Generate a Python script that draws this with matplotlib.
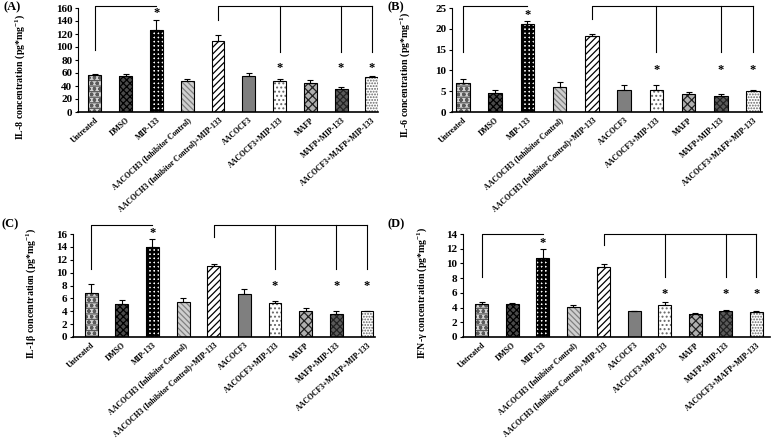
import numpy as np
import matplotlib
matplotlib.use('Agg')
import matplotlib.pyplot as plt

plt.rcParams['font.family'] = ['Liberation Serif', 'DejaVu Serif']
plt.rcParams['font.weight'] = 'bold'
plt.rcParams['mathtext.fontset'] = 'custom'
plt.rcParams['mathtext.bf'] = 'Liberation Serif:bold'
plt.rcParams['mathtext.rm'] = 'Liberation Serif:bold'
plt.rcParams['mathtext.default'] = 'bf'
plt.rcParams['hatch.linewidth'] = 0.9

groups = ['Untreated', 'DMSO', 'MIP-133', 'AACOCH3 (Inhibitor Control)',
          'AACOCH3 (Inhibitor Control)+MIP-133', 'AACOCF3', 'AACOCF3+MIP-133',
          'MAFP', 'MAFP+MIP-133', 'AACOCF3+MAFP+MIP-133']

# panel A: IL-8
il8 = [57, 55, 126, 48, 110, 55, 48, 44, 35, 54]
il8_err = [2, 4, 16, 3, 9, 5, 3, 6, 4, 2]
# panel B: IL-6
il6 = [7.0, 4.5, 21.2, 6.0, 18.2, 5.3, 5.3, 4.4, 3.9, 5.0]
il6_err = [1.0, 0.8, 0.7, 1.3, 0.6, 1.1, 1.1, 0.4, 0.5, 0.3]
# panel C: IL-1b
il1b = [6.9, 5.1, 14.0, 5.5, 11.1, 6.7, 5.3, 4.1, 3.5, 4.0]
il1b_err = [1.3, 0.7, 1.2, 0.5, 0.3, 0.7, 0.3, 0.4, 0.5, 0.1]
# panel D: IFN-g
ifng = [4.5, 4.5, 10.7, 4.1, 9.5, 3.5, 4.4, 3.1, 3.6, 3.4]
ifng_err = [0.2, 0.1, 1.2, 0.2, 0.4, 0.1, 0.3, 0.1, 0.1, 0.2]

sig_idx = [2, 6, 8, 9]

faces = ['#d4d4d4', '#4a4a4a', 'white', '#cfcfcf', 'white',
         '#7f7f7f', 'white', '#b0b0b0', '#5a5a5a', 'white']
hatches = ['---ooo', 'xxxxx', '++++', '\\\\\\\\\\\\', '/////',
           '', '....', 'xxxx', 'xxxxx', '......']
hatch_cols = ['#5a5a5a', 'black', 'black', '#808080', 'black',
              '#7f7f7f', '#666666', '#222222', '#222222', '#666666']
hatch_lw = [0.9, 0.9, 1.8, 0.9, 0.9, 0.9, 0.9, 0.9, 0.9, 0.9]

panels = [
    dict(tag='(A)', tagxy=(3, 1), labxy=(27, 0.34), vals=il8, err=il8_err,
         ymax=160, step=20, ylab='IL-8 concentration (pg*mg$^{-1}$)',
         pos=[78, 8, 378, 112], xl=(-0.55, 9.2),
         top=1.02, b1=0.596, b2=0.885, b3=0.577, star=0.42),
    dict(tag='(B)', tagxy=(387, 1), labxy=(412, 0.36), vals=il6, err=il6_err,
         ymax=25, step=5, ylab='IL-6 concentration (pg*mg$^{-1}$)',
         pos=[452, 8, 762, 112], xl=(-0.34, 9.28),
         top=1.02, b1=0.58, b2=0.89, b3=0.58, star=0.40),
    dict(tag='(C)', tagxy=(2, 218), labxy=(38, 0.42), vals=il1b, err=il1b_err,
         ymax=16, step=2, ylab='IL-1β concentration (pg*mg$^{-1}$)',
         pos=[73, 234, 375, 337], xl=(-0.59, 9.26),
         top=1.09, b1=0.66, b2=0.97, b3=0.66, star=0.50),
    dict(tag='(D)', tagxy=(388, 218), labxy=(429, 0.43), vals=ifng, err=ifng_err,
         ymax=14, step=2, ylab='IFN-γ concentration (pg*mg$^{-1}$)',
         pos=[463, 234, 770, 337], xl=(-0.61, 9.45),
         top=1.0, b1=0.58, b2=0.89, b3=0.58, star=0.42),
]

W, H = 775, 441
fig = plt.figure(figsize=(W / 100, H / 100), dpi=100)

for p in panels:
    x0, y0, x1, y1 = p['pos']
    ax = fig.add_axes([x0 / W, 1 - y1 / H, (x1 - x0) / W, (y1 - y0) / H])
    x = np.arange(len(groups))
    for i in range(len(groups)):
        with plt.rc_context({'hatch.linewidth': hatch_lw[i]}):
            bars = ax.bar(x[i], p['vals'][i], width=0.42, color=faces[i],
                          edgecolor=hatch_cols[i], hatch=hatches[i], linewidth=0, zorder=2)
        for b in bars:
            if hasattr(b, 'set_hatch_linewidth'):
                b.set_hatch_linewidth(hatch_lw[i])
        ax.bar(x[i], p['vals'][i], width=0.42, fill=False,
               edgecolor='black', linewidth=0.8, zorder=3)
    ax.errorbar(x, p['vals'], yerr=[np.zeros(len(x)), p['err']], fmt='none',
                ecolor='black', elinewidth=0.8, capsize=2, capthick=0.8, zorder=4)

    ax.set_xlim(*p['xl'])
    ax.set_ylim(0, p['ymax'])
    ax.set_yticks(np.arange(0, p['ymax'] + 0.1, p['step']))
    ax.tick_params(axis='y', labelsize=8, length=2, width=0.8, pad=2)
    ax.tick_params(axis='x', length=0, pad=3)
    ax.set_xticks(x)
    ax.set_xticklabels(groups, rotation=42, ha='right', rotation_mode='anchor',
                       fontsize=5.6)
    for lab in ax.get_yticklabels():
        lab.set_fontweight('bold')
    ax.spines['top'].set_visible(False)
    ax.spines['right'].set_visible(False)
    ax.spines['left'].set_linewidth(0.8)
    ax.spines['bottom'].set_linewidth(1.2)
    ax.set_ylabel(p['ylab'], fontsize=7.1, fontweight='bold')
    lx, ly = p['labxy']
    ax.yaxis.set_label_coords((lx - x0) / (x1 - x0), ly)

    # significance brackets
    tr = ax.get_xaxis_transform()
    kw = dict(color='black', lw=0.8, transform=tr, clip_on=False)
    ax.plot([0, 0, 2], [p['b1'], p['top'], p['top']], **kw)
    ax.plot([4, 4, 9], [p['b2'], p['top'], p['top']], **kw)
    for j in [6, 8, 9]:
        ax.plot([j, j], [p['top'], p['b3']], **kw)

    # asterisks
    ymip = (p['vals'][2] + p['err'][2]) / p['ymax'] + 0.06
    ax.text(2, ymip, '*', transform=tr, ha='center', va='center', fontsize=9)
    for j in sig_idx[1:]:
        ax.text(j, p['star'], '*', transform=tr, ha='center', va='center', fontsize=9)

    tx, ty = p['tagxy']
    fig.text(tx / W, 1 - ty / H, p['tag'], fontsize=9,
             fontweight='bold', va='top', ha='left')

fig.savefig('out.png', dpi=100)
